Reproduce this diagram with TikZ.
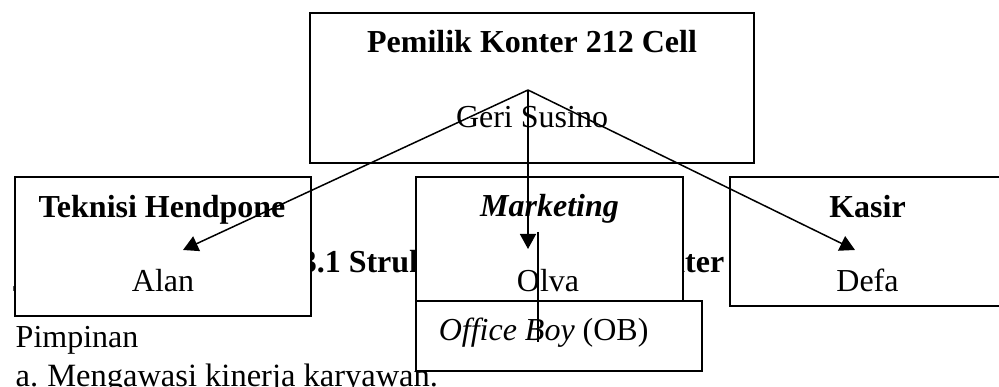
\documentclass[tikz,border=0pt]{standalone}
\usepackage{fontspec}
\setmainfont{Liberation Serif}
\usetikzlibrary{arrows.meta, positioning}
\newcommand\docfont{\fontsize{32}{38}\selectfont}
\tikzset{
  every picture/.style={line width=1.5pt},
  box/.style={draw, fill=white, line width=2pt, inner sep=0pt, minimum width=#1},
  txt/.style={font=\docfont, inner sep=0pt, anchor=base},
  hd/.style={txt, font=\docfont\bfseries},
  arrow/.style={-{Triangle[length=15pt, width=16pt]}, line width=1.5pt},
}

\begin{document}
\begin{tikzpicture}[x=1pt, y=-1pt]
  \clip (0,0) rectangle (999,387);
  \fill[white] (0,0) rectangle (999,387);
  % page text underneath the chart
  \node[hd, anchor=base west] (cap1) at (300,273) {3.1 Struk};
  \node[hd, anchor=base east] (cap2) at (725,273) {nter};
  \node[txt, anchor=base west] (ln0) at (12,308) {T};
  \node[txt, anchor=base west] (ln1) at (15,348) {Pimpinan};
  \node[txt, anchor=base west, font=\fontsize{32.5}{38}\selectfont] (ln2) at (15,387)
    {a.\hspace{9pt}Mengawasi kinerja karyawan.};
  % owner
  \node[box=444pt, minimum height=150pt] (own) at (532,88) {};
  \node[hd] (ownT) at (532,53) {Pemilik Konter 212 Cell};
  \node[txt] (ownN) at (532,128) {Geri Susino};
  % staff
  \node[box=296pt, minimum height=139pt] (tek) at (163,246.5) {};
  \node[hd] (tekT) at (162,218) {Teknisi Hendpone};
  \node[txt] (tekN) at (163,292) {Alan};
  \node[box=267pt, minimum height=139pt] (mkt) at (549.5,246.5) {};
  \node[hd] (mktT) at (549.5,217) {\textit{Marketing}};
  \node[txt] (mktN) at (548,292) {Olva};
  \node[box=275pt, minimum height=129pt] (kas) at (867.5,241.5) {};
  \node[hd] (kasT) at (867.5,218) {Kasir};
  \node[txt] (kasN) at (867.5,292) {Defa};
  \node[box=286pt, minimum height=70pt] (ob) at (559,336) {};
  \node[txt, anchor=base west] (obT) at (438,341) {\textit{Office Boy} (OB)};
  % links
  \coordinate (hub) at (528,90);
  \coordinate (tekIn) at (183,250);
  \coordinate (mktIn) at (528,249);
  \coordinate (kasIn) at (855,250);
  \coordinate (mktOut) at (538,232);
  \coordinate (obIn) at (538,342);
  \foreach \c in {tekIn, mktIn, kasIn} \draw[arrow] (hub) -- (\c);
  \draw[line width=1.3pt] (mktOut) -- (obIn);
\end{tikzpicture}
\end{document}
